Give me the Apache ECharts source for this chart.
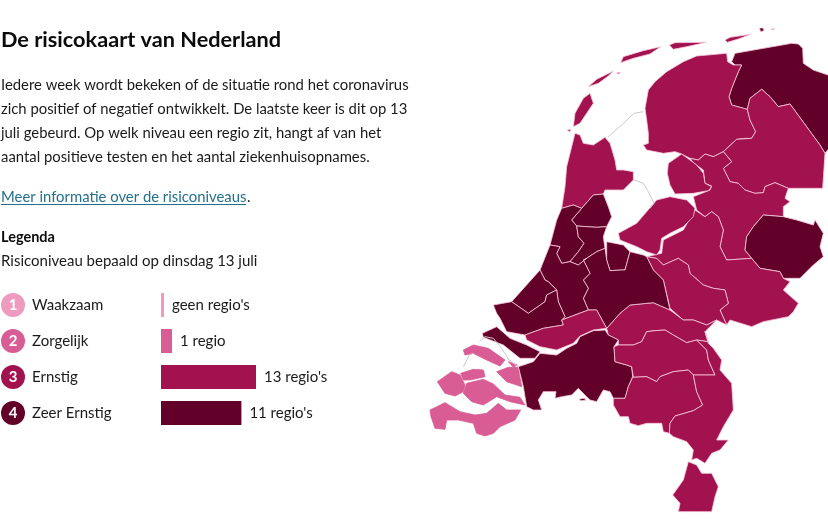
<!DOCTYPE html>
<html>
<head>
<meta charset="utf-8">
<title>De risicokaart van Nederland</title>
<script src="https://cdn.jsdelivr.net/npm/echarts@6/dist/echarts.min.js"></script>
<style>
  html, body { margin: 0; padding: 0; background: #fff; }
  #chart { width: 828px; height: 519px; }
</style>
</head>
<body>
<div id="chart"></div>
<script>
const fontName = "Lato";

const levelNames = ["Waakzaam", "Zorgelijk", "Ernstig", "Zeer Ernstig"];
const levelCounts = [0, 1, 13, 11];
const levelLabels = ["geen regio's", "1 regio", "13 regio's", "11 regio's"];
const levelColors = ["#ee9bbf", "#d95c94", "#a1124f", "#620029"];

const regionNames = [
  "Groningen", "Friesland", "Drenthe", "IJsselland", "Twente",
  "Noord- en Oost-Gelderland", "Gelderland-Midden", "Gelderland-Zuid", "Flevoland",
  "Noord-Holland-Noord", "Zaanstreek-Waterland", "Kennemerland", "Amsterdam-Amstelland",
  "Gooi en Vechtstreek", "Utrecht", "Hollands Midden", "Haaglanden", "Rotterdam-Rijnmond",
  "Zuid-Holland-Zuid", "Zeeland", "Midden- en West-Brabant", "Brabant-Noord",
  "Brabant-Zuidoost", "Limburg-Noord", "Zuid-Limburg"
];
const regionLevels = [4, 3, 3, 3, 4, 3, 3, 3, 3, 3, 4, 4, 4, 4, 4, 4, 4, 4, 3, 2, 4, 3, 3, 3, 3];

// outlines, 3 units per pixel, y grows downward
const regionOutlines = [
  [[[915,100],[1000,85],[1085,70],[1105,72],[1118,85],[1120,130],[1150,150],[1194,165],[1210,175],[1210,370],[1185,400],[1170,375],[1080,252],[1045,260],[1020,230],[995,208],[960,235],[952,268],[930,262],[905,255],[897,230],[905,205],[915,180],[925,155],[935,135],[915,135],[905,125]],
   [[988,24],[1000,24],[1002,32],[992,35]], [[1024,27],[1034,26],[1034,29],[1026,30]]],
  [[[890,100],[800,108],[760,125],[710,155],[675,185],[655,210],[645,265],[650,300],[655,340],[655,370],[640,375],[650,390],[700,400],[735,395],[755,402],[780,415],[805,420],[825,402],[850,410],[880,395],[920,358],[945,355],[965,355],[977,335],[960,300],[952,268],[930,262],[905,255],[897,230],[905,205],[915,180],[925,155],[935,135],[910,135],[893,125]],
   [[475,200],[500,178],[550,153],[535,168],[505,190]], [[560,158],[572,157],[565,162]],
   [[572,128],[580,110],[640,92],[692,80],[660,102],[610,115]],
   [[718,75],[735,68],[830,67],[770,80],[730,88]],
   [[885,60],[900,52],[962,43],[925,57],[892,67]]],
  [[[995,208],[1020,230],[1045,260],[1080,252],[1170,375],[1185,400],[1178,505],[1075,505],[1035,488],[1005,500],[1000,518],[975,520],[945,510],[925,490],[900,485],[880,445],[905,425],[880,395],[920,358],[965,355],[977,335],[960,300],[952,268],[960,235]]],
  [[[880,395],[905,425],[880,445],[900,485],[925,490],[945,510],[975,520],[1000,518],[1005,500],[1035,488],[1075,505],[1065,535],[1080,545],[1060,560],[1060,590],[1000,585],[970,620],[950,650],[945,690],[965,715],[890,720],[870,680],[880,630],[865,590],[845,575],[825,590],[800,570],[790,530],[840,510],[845,498],[825,490],[820,450],[790,428],[780,415],[805,420],[825,402],[850,410]]],
  [[[1000,585],[1060,590],[1100,600],[1150,615],[1155,600],[1180,640],[1170,680],[1180,710],[1150,735],[1110,775],[1060,775],[1050,755],[990,745],[965,715],[945,690],[950,650],[970,620]]],
  [[[650,710],[695,700],[700,660],[760,630],[795,570],[825,590],[845,575],[865,590],[880,630],[870,680],[890,720],[965,715],[990,745],[1050,755],[1060,775],[1080,785],[1060,810],[1105,850],[1090,875],[1075,890],[1000,905],[965,920],[900,900],[890,915],[870,870],[895,850],[885,810],[850,805],[820,795],[780,760],[775,735],[745,715],[700,735],[680,715]]],
  [[[650,710],[680,715],[700,735],[745,715],[775,735],[780,760],[820,795],[850,805],[885,810],[895,850],[870,870],[890,915],[860,900],[830,915],[790,900],[760,900],[720,865],[700,780],[670,750]]],
  [[[530,925],[570,880],[600,855],[670,848],[720,870],[760,900],[790,900],[830,915],[860,900],[825,935],[835,965],[800,960],[770,968],[730,945],[705,930],[675,932],[650,935],[635,965],[610,975],[565,975],[565,960],[535,945]]],
  [[[565,640],[620,610],[680,540],[720,530],[770,540],[795,565],[790,590],[760,620],[720,640],[695,655],[690,690],[680,705],[650,695],[620,680],[570,660]],
   [[715,430],[755,402],[780,420],[800,435],[820,460],[825,490],[845,500],[835,512],[790,520],[735,522],[720,495],[712,460]]],
  [[[435,340],[450,345],[460,370],[490,375],[525,352],[540,370],[555,420],[560,450],[580,450],[610,455],[610,480],[580,510],[525,510],[520,522],[490,525],[455,565],[430,555],[395,565],[405,500],[410,440],[425,380]],
   [[430,320],[435,280],[460,235],[480,220],[490,250],[470,280],[450,310]], [[411,330],[422,328],[420,336]]],
  [[[425,600],[455,565],[490,525],[520,522],[535,560],[545,590],[530,620],[500,622],[440,618]]],
  [[[395,565],[430,555],[455,565],[425,600],[440,618],[445,650],[462,670],[445,695],[420,725],[395,730],[380,700],[390,680],[360,675],[380,600]]],
  [[[440,618],[500,622],[530,620],[520,650],[525,685],[500,695],[470,715],[445,735],[420,725],[445,695],[462,670],[445,650]]],
  [[[530,665],[580,675],[600,695],[585,750],[575,750],[540,752],[530,720]]],
  [[[460,720],[470,715],[500,695],[525,685],[530,720],[540,752],[575,750],[585,750],[600,695],[640,705],[650,710],[670,750],[700,780],[720,870],[670,848],[600,855],[570,880],[530,925],[500,870],[475,870],[460,835],[475,805],[460,780],[480,760]]],
  [[[330,750],[360,675],[390,680],[380,700],[395,730],[420,725],[445,735],[470,715],[460,720],[480,760],[460,780],[475,805],[460,835],[475,870],[395,900],[405,890],[385,845],[380,810],[355,785],[345,780]]],
  [[[330,750],[345,780],[355,785],[380,810],[350,825],[345,845],[295,880],[245,845]]],
  [[[190,855],[245,845],[295,880],[345,845],[350,825],[380,810],[385,845],[405,890],[395,900],[400,915],[340,925],[285,945],[230,935],[210,895],[200,880]],
   [[157,940],[200,920],[240,955],[290,975],[330,995],[315,1015],[270,1015],[220,975],[160,952]]],
  [[[285,945],[340,925],[400,915],[395,900],[475,870],[500,870],[530,925],[490,930],[450,948],[430,970],[380,990],[330,980],[290,960]]],
  [[[100,990],[130,975],[175,985],[225,1020],[210,1038],[170,1020],[130,1000],[105,1005]],
   [[92,1060],[130,1048],[160,1050],[165,1070],[120,1080],[100,1080]],
   [[22,1085],[65,1055],[90,1065],[105,1095],[100,1115],[75,1128],[45,1120]],
   [[110,1090],[160,1078],[190,1092],[225,1125],[270,1132],[285,1155],[240,1145],[200,1130],[160,1155],[125,1145],[100,1120]],
   [[200,1055],[235,1042],[265,1042],[275,1100],[260,1095],[230,1085]],
   [[235,1025],[262,1035],[250,1042]],
   [[0,1170],[45,1148],[90,1175],[135,1185],[170,1180],[205,1150],[230,1170],[272,1170],[255,1200],[210,1220],[190,1240],[165,1248],[140,1240],[130,1210],[85,1200],[50,1200],[45,1228],[15,1225],[3,1190]]],
  [[[265,1040],[310,1025],[330,1000],[380,1005],[410,985],[440,970],[450,950],[490,932],[525,930],[535,945],[565,960],[552,980],[555,1025],[590,1035],[605,1040],[608,1070],[595,1100],[585,1135],[550,1135],[540,1115],[520,1110],[500,1145],[480,1140],[470,1130],[445,1105],[425,1125],[395,1130],[375,1135],[378,1115],[340,1115],[325,1140],[335,1170],[310,1170],[290,1160],[280,1100]],
   [[448,1137],[462,1135],[468,1141],[452,1142]]],
  [[[565,975],[610,975],[635,965],[650,935],[675,932],[705,930],[730,945],[770,968],[800,960],[830,990],[835,1020],[855,1065],[790,1065],[775,1050],[730,1055],[690,1070],[680,1085],[650,1070],[610,1072],[605,1040],[590,1035],[555,1025],[552,980]]],
  [[[608,1072],[650,1070],[680,1085],[690,1070],[730,1055],[775,1050],[790,1065],[800,1115],[818,1155],[790,1172],[735,1188],[720,1210],[718,1240],[700,1235],[695,1210],[650,1210],[625,1217],[600,1210],[595,1190],[570,1190],[550,1155],[550,1135],[585,1135],[595,1100]]],
  [[[825,935],[835,970],[850,985],[875,1020],[870,1050],[905,1090],[910,1170],[880,1220],[860,1260],[895,1260],[870,1290],[845,1300],[825,1330],[800,1315],[785,1320],[790,1290],[770,1265],[730,1250],[718,1240],[720,1210],[735,1188],[790,1172],[818,1155],[800,1115],[790,1065],[855,1065],[835,1020],[830,990],[800,960],[835,965]]],
  [[[775,1325],[800,1335],[815,1360],[845,1360],[865,1400],[855,1430],[845,1475],[800,1475],[745,1475],[750,1450],[728,1425],[760,1380]]]
];

// grey province lines running over the water
const waterLines = [
  [[535,350],[580,310],[612,280],[640,275]],
  [[610,478],[640,490],[655,515],[672,550],[660,565]],
  [[100,1040],[118,1005],[130,1000]],
  [[148,965],[165,950],[190,955],[215,985],[240,1025]],
  [[240,1020],[262,1040]]
];

const chart = echarts.init(document.getElementById("chart"));

const mapFeatures = regionNames.map((name, i) => ({
  type: "Feature",
  properties: { name: name },
  geometry: {
    type: "MultiPolygon",
    coordinates: regionOutlines[i].map((ring) => [ring.map((p) => [p[0], -p[1]])])
  }
}));
echarts.registerMap("nederland", { type: "FeatureCollection", features: mapFeatures });

const allPoints = regionOutlines.flat(2);
const minX = Math.min(...allPoints.map((p) => p[0]));
const maxX = Math.max(...allPoints.map((p) => p[0]));
const minY = Math.min(...allPoints.map((p) => p[1]));
const maxY = Math.max(...allPoints.map((p) => p[1]));

const labelRich = { t: { fontFamily: fontName, fontSize: 15, color: "#1a1a1a", padding: [0, 0, 0, 7] } };
levelColors.forEach((color, i) => {
  labelRich["n" + i] = {
    width: 24, height: 24, borderRadius: 12, align: "center", lineHeight: 24,
    backgroundColor: color, color: "#fff", fontFamily: fontName, fontSize: 15, fontWeight: "bold"
  };
});

const minBarWidth = [3, 11, 0, 0];

function textBlock(text, top, size, weight, lineHeight, color) {
  return {
    type: "text", left: 1, top: top, silent: true,
    style: {
      text: text, fill: color || "#1a1a1a", lineHeight: lineHeight,
      font: (weight || "normal") + " " + size + "px " + fontName
    }
  };
}

chart.setOption({
  animation: false,
  graphic: [
    textBlock("De risicokaart van Nederland", 28, 21.7, "bold", 24, "#0b0b0b"),
    textBlock("Iedere week wordt bekeken of de situatie rond het coronavirus\nzich positief of negatief ontwikkelt. De laatste keer is dit op 13\njuli gebeurd. Op welk niveau een regio zit, hangt af van het\naantal positieve testen en het aantal ziekenhuisopnames.", 73, 14.85, "normal", 24),
    textBlock("Meer informatie over de risiconiveaus", 185, 14.85, "normal", 24, "#23708c"),
    { type: "text", left: 247, top: 185, silent: true, style: { text: ".", fill: "#1a1a1a", lineHeight: 24, font: "14.85px " + fontName } },
    { type: "line", silent: true, shape: { x1: 1, y1: 204.5, x2: 246, y2: 204.5 }, style: { stroke: "#23708c", lineWidth: 1 } },
    textBlock("Legenda", 225, 14.5, "bold", 24, "#0b0b0b"),
    textBlock("Risiconiveau bepaald op dinsdag 13 juli", 249, 15, "normal", 24)
  ],
  geo: {
    map: "nederland",
    silent: true,
    roam: false,
    aspectScale: 1,
    left: 430 + minX / 3,
    top: 20 + minY / 3,
    width: (maxX - minX) / 3,
    height: (maxY - minY) / 3,
    label: { show: false },
    itemStyle: { borderColor: "#f9c9dc", borderWidth: 0.8 },
    regions: regionNames.map((name, i) => ({
      name: name,
      itemStyle: name === "Zeeland"
        ? { areaColor: levelColors[regionLevels[i] - 1], borderColor: levelColors[regionLevels[i] - 1] }
        : { areaColor: levelColors[regionLevels[i] - 1] }
    }))
  },
  grid: { left: 161, top: 287, width: 95, height: 144, outerBoundsMode: "none" },
  xAxis: { type: "value", min: 0, max: 13, show: false },
  yAxis: {
    type: "category",
    inverse: true,
    data: levelNames,
    axisLine: { show: false },
    axisTick: { show: false },
    axisLabel: {
      align: "left",
      margin: 160,
      formatter: (value, index) => "{n" + index + "|" + (index + 1) + "}{t|" + value + "}",
      rich: labelRich
    }
  },
  series: levelNames.map((name, i) => ({
    type: "bar",
    name: name,
    barWidth: 24,
    barGap: "-100%",
    barMinHeight: minBarWidth[i],
    silent: true,
    itemStyle: { color: levelColors[i] },
    label: {
      show: true, position: "right", distance: 8,
      formatter: levelLabels[i],
      fontFamily: fontName, fontSize: 15, color: "#1a1a1a"
    },
    data: levelCounts.map((count, j) => (j === i ? count : "-"))
  })).concat([{
    type: "lines",
    coordinateSystem: "geo",
    polyline: true,
    silent: true,
    lineStyle: { color: "#c9c9c9", width: 1, opacity: 1 },
    data: waterLines.map((line) => ({ coords: line.map((p) => [p[0], -p[1]]) }))
  }])
});
</script>
</body>
</html>
